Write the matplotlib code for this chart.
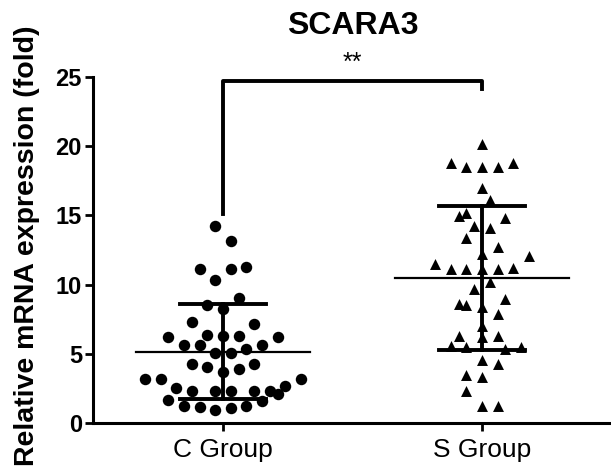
import numpy as np
import matplotlib
matplotlib.use('Agg')
import matplotlib.pyplot as plt

plt.rcParams['font.family'] = ['Liberation Sans', 'DejaVu Sans']

# Groups and read-off values
groups = ['C Group', 'S Group']

c_slot = [-1, 1, -3, 1, 3, -1, 2, -2, 0, -4, 4, -7, -2, 0, 2, 7, -5, -3, 5, 3,
          -1, 1, -4, -2, 4, 2, 0, -10, -8, 10, -6, -4, -1, 1, 4, 6, 8, 7, -7, 5,
          -5, -3, -1, 1, 3]
c_vals = [14.27, 13.13, 11.15, 11.15, 11.26, 10.33, 9.05, 8.5, 8.26, 7.3, 7.17,
          6.22, 6.34, 6.29, 6.29, 6.22, 5.64, 5.64, 5.64, 5.33, 5.09, 5.09, 4.25,
          4.06, 4.25, 3.89, 3.65, 3.17, 3.17, 3.17, 2.52, 2.33, 2.33, 2.33, 2.33,
          2.33, 2.64, 2.09, 1.66, 1.61, 1.25, 1.18, 0.96, 1.06, 1.25]

s_slot = [0, -4, -2, 0, 2, 4, 0, 1, -3, -2, 3, -1, 1, -2, 2, 6, -6, -4, -2, 0,
          2, 4, 1, -1, -3, -2, 3, 2, -3, 2, -4, -2, 3, 5, 0, 2, -2, 0, -2, 0,
          2, 0, 0, 0, 0]
s_vals = [20.17, 18.78, 18.47, 18.47, 18.47, 18.78, 16.98, 16.14, 14.94, 15.18,
          14.82, 14.22, 14.1, 13.38, 12.73, 12.1, 11.46, 11.15, 11.15, 11.15,
          11.15, 11.22, 10.18, 9.7, 8.62, 8.5, 8.98, 7.9, 6.29, 6.29, 5.57, 5.52,
          5.33, 5.52, 4.56, 4.25, 3.46, 3.29, 2.28, 1.25, 1.25, 12.2, 8.35, 7.0,
          6.2]

means = [5.16, 10.45]
sds = [3.45, 5.2]
yticks = [0, 5, 10, 15, 20, 25]

fig = plt.figure(figsize=(6.11, 4.66), dpi=100)
ax = fig.add_axes([93 / 611, 1 - 423 / 466, 1 - 93 / 611, (423 - 77) / 466])

step = 0.0301
ax.scatter(np.array(c_slot) * step, c_vals, s=68, marker='o', color='black',
           linewidths=0, zorder=3, clip_on=False)
ax.scatter(1 + np.array(s_slot) * step, s_vals, s=62, marker='^', color='black',
           linewidths=0, zorder=3, clip_on=False)

# mean and SD bars
for i, (m, sd) in enumerate(zip(means, sds)):
    ax.plot([i - 0.335, i + 0.335], [m, m], color='black', lw=1.6, zorder=4)
    ax.plot([i, i], [m - sd, m + sd], color='black', lw=2.8, zorder=4)
    for y in (m - sd, m + sd):
        ax.plot([i - 0.166, i + 0.166], [y, y], color='black', lw=2.8, zorder=4)

# significance bracket
ax.plot([0, 0, 1, 1], [15.1, 24.7, 24.7, 24.1], color='black', lw=2.8,
        solid_joinstyle='round', clip_on=False, zorder=5)

ax.set_xlim(-0.502, 1.498)
ax.set_ylim(0, 25)
ax.set_yticks(yticks)
ax.set_yticklabels([str(t) for t in yticks], fontsize=17, fontweight='bold')
ax.set_xticks([0, 1])
ax.set_xticklabels(groups, fontsize=19)
ax.tick_params(axis='y', length=6, width=2, pad=2)
ax.tick_params(axis='x', length=6, width=2, pad=5)

for side in ('top', 'right'):
    ax.spines[side].set_visible(False)
for side in ('left', 'bottom'):
    ax.spines[side].set_linewidth(2.2)

fig.text(353 / 611, 1 - 26 / 466, 'SCARA3', fontsize=23, fontweight='bold',
         ha='center', va='center')
fig.text(352 / 611, 1 - 63 / 466, '**', fontsize=18, ha='center', va='center')
fig.text(27 / 611, 1 - 246 / 466, 'Relative mRNA expression (fold)', fontsize=20.5,
         fontweight='bold', rotation=90, ha='center', va='center')

fig.savefig('out.png', dpi=100)
